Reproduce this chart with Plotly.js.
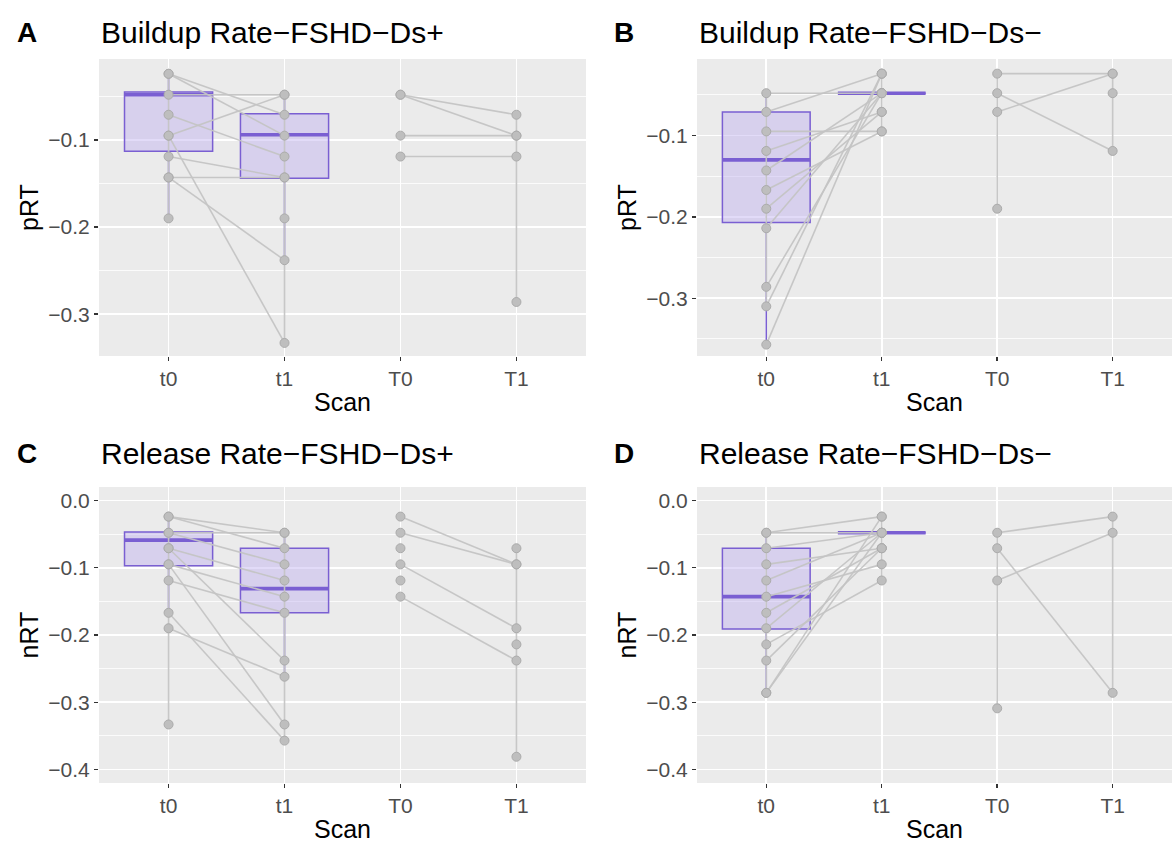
<!DOCTYPE html>
<html>
<head>
<meta charset="utf-8">
<script src="https://cdn.plot.ly/plotly-3.0.1.min.js"></script>
<style>html,body{margin:0;padding:0;background:#fff;overflow:hidden;}#chart{width:1172px;height:844px;}</style>
</head>
<body>
<div id="chart"></div>
<script>
// ---------------- DATA ----------------
const CATS = ['t0', 't1', 'T0', 'T1'];

// Panel A: Buildup Rate - FSHD - Ds+ (pRT)
const A_t0 = [-0.024, -0.024, -0.048, -0.071, -0.095, -0.095, -0.119, -0.143, -0.143, -0.190, null];
const A_t1 = [-0.071, -0.095, -0.048, -0.119, -0.048, -0.333, -0.143, -0.143, -0.238, null, -0.190];
const A_T0 = [-0.048, -0.048, -0.095, -0.119, null];
const A_T1 = [-0.071, -0.095, -0.095, -0.119, -0.286];
const A_vcat = ['t0', 't1', 'T1'];
const A_vhi = [-0.024, -0.048, -0.071];
const A_vlo = [-0.190, -0.333, -0.286];
const A_q1 = [-0.113, -0.144];
const A_med = [-0.048, -0.094];
const A_q3 = [-0.045, -0.070];
const A_lo = [-0.190, -0.238];
const A_hi = [-0.024, -0.048];

// Panel B: Buildup Rate - FSHD - Ds- (pRT)
const B_t0 = [-0.048, -0.071, -0.095, -0.119, -0.143, -0.167, -0.190, -0.214, -0.286, -0.310, -0.357];
const B_t1 = [-0.048, -0.024, -0.095, -0.071, -0.048, -0.095, -0.071, -0.048, -0.048, -0.024, -0.024];
const B_T0 = [-0.024, -0.048, -0.071, -0.190, null];
const B_T1 = [-0.024, -0.119, -0.024, null, -0.048];
const B_vcat = ['t0', 't1', 'T0', 'T1'];
const B_vhi = [-0.048, -0.024, -0.024, -0.024];
const B_vlo = [-0.310, -0.095, -0.190, -0.119];
const B_q1 = [-0.207, -0.048];
const B_med = [-0.130, -0.048];
const B_q3 = [-0.071, -0.048];
const B_lo = [-0.357, -0.048];
const B_hi = [-0.048, -0.048];

// Panel C: Release Rate - FSHD - Ds+ (nRT)
const C_t0 = [-0.024, -0.024, -0.048, -0.048, -0.071, -0.095, -0.095, -0.119, -0.167, -0.190, -0.071, -0.333];
const C_t1 = [-0.048, -0.071, -0.048, -0.095, -0.119, -0.143, -0.333, -0.167, -0.357, -0.262, -0.238, null];
const C_T0 = [-0.024, -0.048, -0.071, -0.095, -0.119, -0.143, null, null, null];
const C_T1 = [-0.095, -0.095, null, -0.190, null, -0.238, -0.071, -0.214, -0.381];
const C_vcat = ['t0', 't1', 'T1'];
const C_vhi = [-0.024, -0.048, -0.071];
const C_vlo = [-0.333, -0.357, -0.381];
const C_q1 = [-0.097, -0.167];
const C_med = [-0.059, -0.131];
const C_q3 = [-0.047, -0.071];
const C_lo = [-0.167, -0.262];
const C_hi = [-0.024, -0.048];

// Panel D: Release Rate - FSHD - Ds- (nRT)
const D_t0 = [-0.048, -0.048, -0.071, -0.095, -0.119, -0.143, -0.167, -0.190, -0.214, -0.238, -0.286, -0.286];
const D_t1 = [-0.024, -0.048, -0.048, -0.071, -0.048, -0.095, -0.071, -0.048, -0.119, -0.071, -0.048, -0.024];
const D_T0 = [-0.048, -0.119, -0.071, -0.309];
const D_T1 = [-0.024, -0.048, -0.286, null];
const D_vcat = ['t0', 't1', 'T0', 'T1'];
const D_vhi = [-0.048, -0.024, -0.048, -0.024];
const D_vlo = [-0.286, -0.119, -0.309, -0.286];
const D_q1 = [-0.191, -0.048];
const D_med = [-0.143, -0.048];
const D_q3 = [-0.071, -0.048];
const D_lo = [-0.286, -0.048];
const D_hi = [-0.048, -0.048];

const TAGS = ['A', 'B', 'C', 'D'];
const TITLES = ['Buildup Rate\u2212FSHD\u2212Ds+', 'Buildup Rate\u2212FSHD\u2212Ds\u2212',
                'Release Rate\u2212FSHD\u2212Ds+', 'Release Rate\u2212FSHD\u2212Ds\u2212'];
const YTITLES = ['pRT', 'pRT', 'nRT', 'nRT'];
const XTITLE = 'Scan';
const YTICKS_TOP = [-0.1, -0.2, -0.3];
const YTICKS_BOT = [0.0, -0.1, -0.2, -0.3, -0.4];

// ---------------- STYLE / LAYOUT ----------------
const W = 1172, H = 844;
const PURPLE = '#7A5FD2';
const BOXFILL = 'rgba(190,175,240,0.45)';
const GREYLINE = 'rgba(196,196,196,0.95)';
const GREYPT = '#BEBEBE';
const FONT = 'Liberation Sans, Arial, Helvetica, sans-serif';

// plot rectangles in pixels [left, right, top, bottom]
const RECTS = [[99, 586, 59, 356], [697, 1172, 59, 356], [99, 586, 487, 783], [697, 1172, 487, 783]];
const XRANGES = [[-0.6, 3.6], [-0.6, 3.514], [-0.6, 3.6], [-0.6, 3.514]];
const YRANGES = [[-0.348, -0.007], [-0.371, -0.006], [-0.42, 0.02], [-0.42, 0.02]];
const TITLE_Y = [33, 33, 454, 454];
const TAG_X = [15, 612, 15, 612];

const panels = [
  {t0: A_t0, t1: A_t1, T0: A_T0, T1: A_T1, vcat: A_vcat, vhi: A_vhi, vlo: A_vlo, q1: A_q1, med: A_med, q3: A_q3, lo: A_lo, hi: A_hi, yt: YTICKS_TOP},
  {t0: B_t0, t1: B_t1, T0: B_T0, T1: B_T1, vcat: B_vcat, vhi: B_vhi, vlo: B_vlo, q1: B_q1, med: B_med, q3: B_q3, lo: B_lo, hi: B_hi, yt: YTICKS_TOP},
  {t0: C_t0, t1: C_t1, T0: C_T0, T1: C_T1, vcat: C_vcat, vhi: C_vhi, vlo: C_vlo, q1: C_q1, med: C_med, q3: C_q3, lo: C_lo, hi: C_hi, yt: YTICKS_BOT},
  {t0: D_t0, t1: D_t1, T0: D_T0, T1: D_T1, vcat: D_vcat, vhi: D_vhi, vlo: D_vlo, q1: D_q1, med: D_med, q3: D_q3, lo: D_lo, hi: D_hi, yt: YTICKS_BOT}
];

const BOXW = 0.76;
const traces = [];
const layout = {
  width: W, height: H,
  margin: {l: 0, r: 0, t: 0, b: 0},
  paper_bgcolor: '#FFFFFF',
  plot_bgcolor: '#EBEBEB',
  showlegend: false,
  font: {family: FONT, color: '#000'},
  annotations: []
};

panels.forEach((p, k) => {
  const sfx = k === 0 ? '' : String(k + 1);
  const xa = 'x' + sfx, ya = 'y' + sfx;
  const r = RECTS[k];

  // boxes (t0, t1)
  traces.push({
    type: 'box', x: [0, 1], q1: p.q1, median: p.med, q3: p.q3,
    lowerfence: p.lo, upperfence: p.hi, width: BOXW,
    fillcolor: BOXFILL, line: {color: PURPLE, width: 1.5}, whiskerwidth: 0,
    boxpoints: false, xaxis: xa, yaxis: ya, hoverinfo: 'skip'
  });
  // thicker median bars
  const mx = [], my = [];
  p.med.forEach((m, i) => { mx.push(i - BOXW / 2, i + BOXW / 2, null); my.push(m, m, null); });
  traces.push({type: 'scatter', mode: 'lines', x: mx, y: my, xaxis: xa, yaxis: ya,
    line: {color: PURPLE, width: 3.6}, hoverinfo: 'skip'});

  // vertical connectors
  const vx = [], vy = [];
  p.vcat.forEach((c, i) => { const ci = CATS.indexOf(c); vx.push(ci, ci, null); vy.push(p.vhi[i], p.vlo[i], null); });
  traces.push({type: 'scatter', mode: 'lines', x: vx, y: vy, xaxis: xa, yaxis: ya,
    line: {color: GREYLINE, width: 1.6}, hoverinfo: 'skip'});

  // paired lines + points
  const lx = [], ly = [], px = [], py = [];
  const addPairs = (a, b, ia, ib) => {
    a.forEach((va, i) => {
      const vb = b[i];
      if (va !== null && vb !== null) { lx.push(ia, ib, null); ly.push(va, vb, null); }
      if (va !== null) { px.push(ia); py.push(va); }
      if (vb !== null) { px.push(ib); py.push(vb); }
    });
  };
  addPairs(p.t0, p.t1, 0, 1);
  addPairs(p.T0, p.T1, 2, 3);
  traces.push({type: 'scatter', mode: 'lines', x: lx, y: ly, xaxis: xa, yaxis: ya,
    line: {color: GREYLINE, width: 1.6}, hoverinfo: 'skip'});
  traces.push({type: 'scatter', mode: 'markers', x: px, y: py, xaxis: xa, yaxis: ya,
    marker: {color: GREYPT, size: 9, line: {color: '#ABABAB', width: 1}}, hoverinfo: 'skip'});

  layout['xaxis' + sfx] = {
    domain: [r[0] / W, r[1] / W], anchor: ya, range: XRANGES[k],
    tickmode: 'array', tickvals: [0, 1, 2, 3], ticktext: CATS,
    showgrid: true, gridcolor: '#FFFFFF', gridwidth: 1.6, zeroline: false, showline: false,
    ticks: 'outside', ticklen: 4, tickwidth: 1.4, tickcolor: '#333333',
    tickfont: {size: 21, color: '#4D4D4D'},
    title: {text: XTITLE, font: {size: 25, color: '#000'}, standoff: 4},
    fixedrange: true
  };
  layout['yaxis' + sfx] = {
    domain: [1 - r[3] / H, 1 - r[2] / H], anchor: xa, range: YRANGES[k],
    tickmode: 'array', tickvals: p.yt, tickformat: '.1f',
    showgrid: true, gridcolor: '#FFFFFF', gridwidth: 1.6, zeroline: false, showline: false,
    minor: {tickmode: 'linear', tick0: 0, dtick: 0.05, showgrid: true, gridcolor: '#FFFFFF', gridwidth: 0.8, ticks: ''},
    ticks: 'outside', ticklen: 4, tickwidth: 1.4, tickcolor: '#333333',
    tickfont: {size: 21, color: '#4D4D4D'},
    title: {text: YTITLES[k], font: {size: 25, color: '#000'}, standoff: 2},
    fixedrange: true
  };

  layout.annotations.push({
    xref: 'paper', yref: 'paper', x: TAG_X[k] / W, y: 1 - TITLE_Y[k] / H,
    xanchor: 'left', yanchor: 'middle', showarrow: false,
    text: '<b>' + TAGS[k] + '</b>', font: {size: 28, color: '#000', family: FONT}
  });
  layout.annotations.push({
    xref: 'paper', yref: 'paper', x: r[0] / W, y: 1 - TITLE_Y[k] / H,
    xanchor: 'left', yanchor: 'middle', showarrow: false,
    text: TITLES[k], font: {size: 30, color: '#000', family: FONT}
  });
});

Plotly.newPlot('chart', traces, layout, {displayModeBar: false, staticPlot: true});
</script>
</body>
</html>
